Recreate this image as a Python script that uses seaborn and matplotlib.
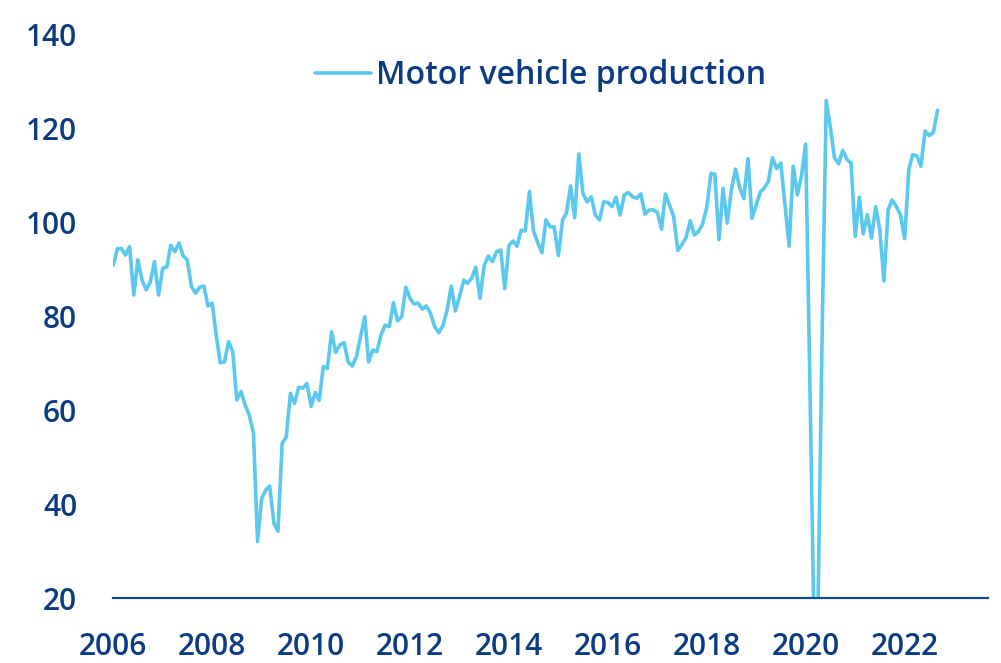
import pandas as pd
import matplotlib.pyplot as plt
import seaborn as sns

# monthly index, Jan 2006 - Sep 2022
start_month = '2006-01-01'
production = [
    90.9, 94.4, 94.4, 93.0, 94.8, 84.5, 92.0, 87.7, 85.6, 87.3, 91.6, 84.5,
    90.2, 90.5, 95.1, 93.7, 95.6, 92.8, 92.0, 86.3, 84.9, 86.2, 86.4, 82.2,
    82.8, 75.7, 70.1, 70.3, 74.6, 72.5, 62.2, 64.0, 61.1, 59.0, 55.2, 32.1,
    41.3, 43.1, 43.9, 36.0, 34.3, 53.0, 54.3, 63.6, 61.5, 64.9, 64.7, 65.7,
    60.8, 63.8, 62.1, 69.3, 68.9, 76.7, 72.3, 73.9, 74.4, 70.3, 69.4, 71.4,
    75.7, 79.9, 70.3, 72.8, 72.5, 76.0, 78.1, 77.8, 82.9, 79.0, 79.9, 86.2,
    83.8, 82.6, 82.8, 81.5, 82.2, 80.6, 77.8, 76.5, 78.1, 81.3, 86.4, 81.1,
    84.2, 87.7, 87.0, 88.1, 90.4, 83.8, 90.7, 92.8, 91.6, 93.7, 94.1, 85.9,
    95.1, 96.0, 94.9, 98.3, 98.1, 106.5, 98.2, 95.7, 93.5, 100.5, 99.0, 99.0,
    92.9, 100.5, 101.9, 107.7, 101.0, 114.5, 106.1, 104.3, 105.4, 101.5, 100.5, 104.3,
    104.2, 103.3, 105.3, 101.5, 105.8, 106.3, 105.4, 105.1, 106.0, 101.7, 102.6, 102.6,
    102.1, 98.5, 106.0, 103.6, 101.2, 94.0, 95.2, 96.8, 100.3, 97.3, 98.0, 99.6,
    103.2, 110.4, 110.2, 96.3, 107.2, 99.8, 106.8, 111.3, 107.3, 105.0, 113.5, 100.8,
    103.7, 106.5, 107.2, 108.7, 113.7, 111.4, 112.6, 103.7, 94.9, 111.9, 105.8, 109.8,
    116.6, 66.0, 17.0, 18.0, 75.0, 125.9, 120.2, 113.7, 112.4, 115.3, 113.3, 112.6,
    97.0, 105.3, 97.5, 101.6, 96.6, 103.3, 98.6, 87.5, 102.6, 104.7, 103.3, 101.6,
    96.5, 111.2, 114.3, 114.1, 111.9, 119.4, 118.4, 119.1, 123.8,
]
tick_years = [2006, 2008, 2010, 2012, 2014, 2016, 2018, 2020, 2022]
y_ticks = [20, 40, 60, 80, 100, 120, 140]
series_name = 'Motor vehicle production'

df = pd.DataFrame({
    'date': pd.date_range(start_month, periods=len(production), freq='MS'),
    'value': production,
})

navy = '#0b3b82'
light_blue = '#5bc8ef'

sns.set_style('white')
plt.rcParams['font.family'] = ['Open Sans', 'DejaVu Sans']

fig = plt.figure(figsize=(10.01, 6.63), dpi=100)
ax = fig.add_axes([0.1132, 0.0973, 0.874, 0.8514])

sns.lineplot(data=df, x='date', y='value', ax=ax, color=light_blue,
             linewidth=2.6, label=series_name)

ax.set_ylim(20, 140)
ax.set_xlim(pd.Timestamp('2006-01-01'), pd.Timestamp('2023-09-10'))
ax.set_yticks(y_ticks)
ax.set_xticks([pd.Timestamp(f'{y}-01-01') for y in tick_years])
ax.set_xticklabels([str(y) for y in tick_years])
ax.set_xlabel('')
ax.set_ylabel('')

for side in ['top', 'right', 'left']:
    ax.spines[side].set_visible(False)
ax.spines['bottom'].set_color('#1a4a8e')
ax.spines['bottom'].set_linewidth(1.6)

ax.tick_params(axis='x', length=0, pad=24, labelsize=21.5, labelcolor=navy)
ax.tick_params(axis='y', length=0, pad=26, labelsize=21.5, labelcolor=navy)
for lab in ax.get_xticklabels() + ax.get_yticklabels():
    lab.set_fontweight(600)

leg = ax.legend(loc='center', bbox_to_anchor=(0.488, 0.927), frameon=False,
                fontsize=23, handlelength=1.75, handletextpad=0.15)
for t in leg.get_texts():
    t.set_color(navy)
    t.set_fontweight(600)

fig.savefig('out.png', dpi=100)
